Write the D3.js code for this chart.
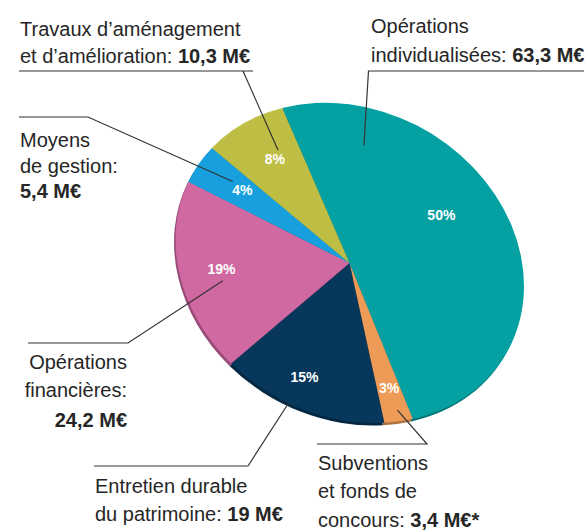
<!DOCTYPE html>
<html>
<head>
<meta charset="utf-8">
<script src="https://cdn.jsdelivr.net/npm/d3@7"></script>
<style>
  body { margin: 0; background: #fff; }
  svg { display: block; }
  text { font-family: "Liberation Sans Narrow", "Arial Narrow", sans-serif; }
</style>
</head>
<body>
<svg width="588" height="532"></svg>
<script>
// data, clockwise from the top of the pie
var categories = ["Opérations individualisées", "Subventions et fonds de concours", "Entretien durable du patrimoine",
                  "Opérations financières", "Moyens de gestion", "Travaux d’aménagement et d’amélioration"];
var amounts = [63.3, 3.4, 19, 24.2, 5.4, 10.3];
var percentLabels = ["50%", "3%", "15%", "19%", "4%", "8%"];
var amountLabels = ["63,3 M€", "3,4 M€*", "19 M€", "24,2 M€", "5,4 M€", "10,3 M€"];
var colors = ["#05a0a2", "#ee9b57", "#07375b", "#d068a2", "#17a0dd", "#bebd44"];

// label text lines, the amount goes after the last line
var labelLines = [
	["Opérations", "individualisées: "],
	["Subventions", "et fonds de", "concours: "],
	["Entretien durable", "du patrimoine: "],
	["Opérations", "financières:", ""],
	["Moyens", "de gestion:", ""],
	["Travaux d’aménagement", "et d’amélioration: "]
];

var svg = d3.select('svg');

// the pie is drawn as a tilted ellipse
var cx = 349.5, cy = 263, rx = 180.5, ry = 152.7, tilt = 30;
var start = -48.8 * Math.PI / 180;

var pie = d3.pie()
	.value(function(d){ return d; })
	.sort(null)
	.startAngle(start)
	.endAngle(start + 2 * Math.PI);

var arcs = pie(amounts);

var arc = d3.arc()
	.innerRadius(0)
	.outerRadius(1);

function project(r, a) {
	var t = tilt * Math.PI / 180;
	var sx = rx * r * Math.sin(a), sy = -ry * r * Math.cos(a);
	return [cx + sx * Math.cos(t) - sy * Math.sin(t), cy + sx * Math.sin(t) + sy * Math.cos(t)];
}
function spot(d, r, f) {
	return project(r, d.startAngle + (d.endAngle - d.startAngle) * f);
}

// darker rim underneath
svg.append('g')
	.attr('transform', 'translate(' + (cx - 1.5) + ',' + (cy + 2.5) + ') rotate(' + tilt + ') scale(' + rx + ',' + ry + ')')
	.selectAll('path')
	.data(arcs)
	.enter().append('path')
	.attr('d', arc)
	.attr('fill', function(d, i){ return d3.color(colors[i]).darker(0.9); });

svg.append('g')
	.attr('transform', 'translate(' + cx + ',' + cy + ') rotate(' + tilt + ') scale(' + rx + ',' + ry + ')')
	.selectAll('path')
	.data(arcs)
	.enter().append('path')
	.attr('d', arc)
	.attr('fill', function(d, i){ return colors[i]; });

// where the percentages sit inside each slice (radius, fraction of slice)
var pctSpots = [[0.65, 0.425], [0.79, 0.47], [0.80, 0.56], [0.75, 0.52], [0.72, 0.58], [0.73, 0.55]];

svg.append('g').selectAll('text')
	.data(arcs)
	.enter().append('text')
	.attr('x', function(d, i){ return spot(d, pctSpots[i][0], pctSpots[i][1])[0]; })
	.attr('y', function(d, i){ return spot(d, pctSpots[i][0], pctSpots[i][1])[1]; })
	.attr('dy', '0.35em')
	.attr('text-anchor', 'middle')
	.attr('fill', '#fff')
	.attr('font-size', 14)
	.attr('font-weight', 'bold')
	.text(function(d, i){ return percentLabels[i]; });

// callouts: anchor in slice, leader path, text block
var callouts = [
	{ anchor: [0.76, 0.16], path: [[584, 71], [368.5, 71]], x: 371, y: [33, 62], align: 'start' },
	{ anchor: [0.93, 0.42], path: [[317, 444], [427, 444]], x: 318, y: [470, 498, 527], align: 'start' },
	{ anchor: [1.0, 0.59], path: [[94, 466], [248, 466]], x: 95, y: [493, 521], align: 'start' },
	{ anchor: [0.76, 0.44], path: [[28, 343], [128, 343]], x: 127, y: [369, 397, 427], align: 'end' },
	{ anchor: [0.79, 0.62], path: [[19, 117], [88, 117]], x: 20, y: [147, 173, 198], align: 'start' },
	{ anchor: [0.77, 0.68], path: [[19, 71], [253, 71], [243, 71]], x: 20, y: [36, 63], align: 'start' }
];

var lines = svg.append('g');
var labels = svg.append('g');

arcs.forEach(function(d, i){
	var c = callouts[i];
	var pts = c.path.concat([spot(d, c.anchor[0], c.anchor[1])]);
	var p = 'M' + pts[0];
	if (pts.length === 4) {
		p += 'L' + pts[1] + 'M' + pts[2] + 'L' + pts[3];
	} else {
		p += 'L' + pts[1] + 'L' + pts[2];
	}
	lines.append('path')
		.attr('d', p)
		.attr('fill', 'none')
		.attr('stroke', '#333')
		.attr('stroke-width', 1.2);

	var t = labels.append('text')
		.attr('text-anchor', c.align)
		.attr('fill', '#262626')
		.attr('font-size', 20);
	labelLines[i].forEach(function(line, j){
		var ts = t.append('tspan')
			.attr('x', c.x)
			.attr('y', c.y[j]);
		if (line) ts.append('tspan').text(line);
		if (j === labelLines[i].length - 1) {
			ts.append('tspan')
				.attr('font-weight', 'bold')
				.text(amountLabels[i]);
		}
	});
});
</script>
</body>
</html>
